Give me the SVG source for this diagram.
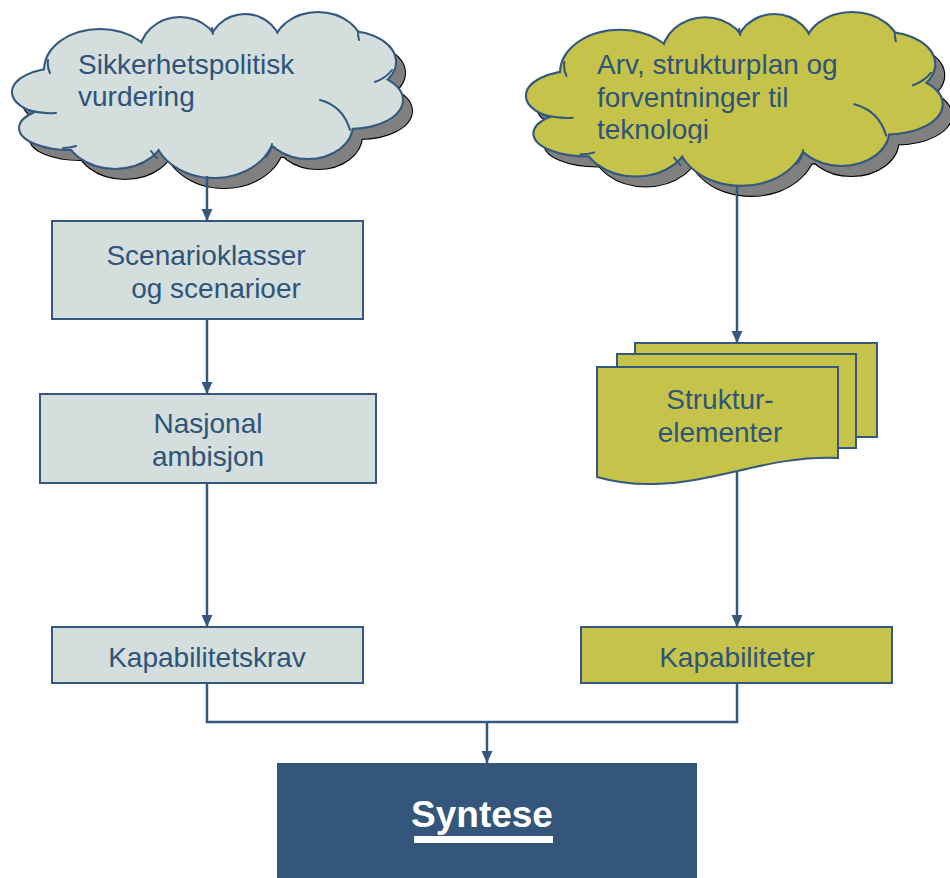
<svg xmlns="http://www.w3.org/2000/svg" xmlns:xlink="http://www.w3.org/1999/xlink" width="950" height="878" viewBox="0 0 950 878">
  <style>
    .lbl { font-family: "Liberation Sans", Arial, sans-serif; font-size: 28px; fill: #2F5479; }
    .box-light { fill: #D3DEDD; stroke: #34587E; stroke-width: 2; }
    .box-olive { fill: #C6C34A; stroke: #34587E; stroke-width: 2; }
    .conn { fill: none; stroke: #34587E; stroke-width: 2.5; }
    .arcs { fill: none; stroke: #34587E; stroke-width: 2; stroke-linecap: round; }
  </style>
  <defs>
    <marker id="arrow" viewBox="0 0 12 12" refX="12" refY="6" markerWidth="12" markerHeight="12" markerUnits="userSpaceOnUse" orient="auto">
      <path d="M0,0.5 L12,6 L0,11.5 Z" fill="#34587E"/>
    </marker>
    <!-- cloud body built from overlapping ellipses -->
    <g id="cloudShape">
      <ellipse cx="100" cy="70" rx="55" ry="40"/>
      <ellipse cx="180" cy="55" rx="40" ry="37"/>
      <ellipse cx="245" cy="50" rx="36" ry="35"/>
      <ellipse cx="318" cy="48" rx="44" ry="35"/>
      <ellipse cx="348" cy="62" rx="47" ry="30"/>
      <ellipse cx="350" cy="100" rx="52" ry="28"/>
      <ellipse cx="308" cy="125" rx="44" ry="33"/>
      <ellipse cx="214" cy="130" rx="60" ry="47"/>
      <ellipse cx="115" cy="130" rx="50" ry="38"/>
      <ellipse cx="70" cy="128" rx="50" ry="21"/>
      <ellipse cx="60" cy="92" rx="47" ry="23"/>
      <ellipse cx="215" cy="95" rx="150" ry="55"/>
    </g>
    <!-- interior fold lines of the cloud -->
    <path id="cloudArcs" d="M48,60 Q47,67 50,73 M212,28 Q212,31 213,34 M358,33 Q358,36 359,40 M392,70 Q386,78 375,82 M320,100 Q343,106 350,130 M272,144 Q271,152 266,157 M151,151 Q154,155 157,158 M63,148 Q70,148 76,146 M25,109 Q40,114 56,113"/>
    <clipPath id="clipTekst">
      <rect x="520" y="0" width="430" height="143"/>
    </clipPath>
  </defs>

  <!-- Cloud: security policy assessment -->
  <g id="sikkerhetspolitisk">
    <g transform="translate(10,11)">
      <use xlink:href="#cloudShape" fill="#808080" stroke="#000" stroke-width="2"/>
      <use xlink:href="#cloudShape" fill="#808080" stroke="none"/>
    </g>
    <use xlink:href="#cloudShape" fill="#D3DEDD" stroke="#34587E" stroke-width="4"/>
    <use xlink:href="#cloudShape" fill="#D3DEDD" stroke="none"/>
    <use xlink:href="#cloudArcs" class="arcs"/>
    <text class="lbl" x="78" y="74">Sikkerhetspolitisk</text>
    <text class="lbl" x="78" y="106">vurdering</text>
  </g>

  <!-- Cloud: legacy, structure plan and technology expectations -->
  <g id="arv">
    <g transform="translate(10,11)">
      <g transform="translate(527,13) scale(1.066,1.048) translate(-13,-13)">
        <use xlink:href="#cloudShape" fill="#808080" stroke="#000" stroke-width="2"/>
        <use xlink:href="#cloudShape" fill="#808080" stroke="none"/>
      </g>
    </g>
    <g transform="translate(527,13) scale(1.066,1.048) translate(-13,-13)">
      <use xlink:href="#cloudShape" fill="#C6C34A" stroke="#34587E" stroke-width="4"/>
      <use xlink:href="#cloudShape" fill="#C6C34A" stroke="none"/>
      <use xlink:href="#cloudArcs" class="arcs"/>
    </g>
    <text class="lbl" x="597" y="74">Arv, strukturplan og</text>
    <text class="lbl" x="597" y="107">forventninger til</text>
    <text class="lbl" x="597" y="139" clip-path="url(#clipTekst)">teknologi</text>
  </g>

  <g id="scenarioklasser">
    <rect class="box-light" x="52" y="221" width="311" height="98"/>
    <text class="lbl" x="206" y="265" text-anchor="middle">Scenarioklasser</text>
    <text class="lbl" x="216" y="298" text-anchor="middle">og scenarioer</text>
  </g>

  <g id="nasjonal-ambisjon">
    <rect class="box-light" x="40" y="394" width="336" height="89"/>
    <text class="lbl" x="208" y="433" text-anchor="middle">Nasjonal</text>
    <text class="lbl" x="208" y="466" text-anchor="middle">ambisjon</text>
  </g>

  <g id="kapabilitetskrav">
    <rect class="box-light" x="52" y="627" width="311" height="56"/>
    <text class="lbl" x="207" y="667" text-anchor="middle">Kapabilitetskrav</text>
  </g>

  <!-- Multi-document stack -->
  <g id="strukturelementer">
    <rect class="box-olive" x="635" y="343" width="242" height="94"/>
    <rect class="box-olive" x="617" y="354" width="239" height="94"/>
    <path class="box-olive" d="M597,367 H838 V458 C770,455 720,482 655,484 Q625,485 597,477 Z"/>
    <text class="lbl" x="720" y="409" text-anchor="middle">Struktur-</text>
    <text class="lbl" x="720" y="442" text-anchor="middle">elementer</text>
  </g>

  <g id="kapabiliteter">
    <rect class="box-olive" x="581" y="627" width="311" height="56"/>
    <text class="lbl" x="737" y="667" text-anchor="middle">Kapabiliteter</text>
  </g>

  <g id="syntese">
    <rect x="277" y="763" width="420" height="115" fill="#33567A"/>
    <text x="482" y="827" text-anchor="middle" font-family="'Liberation Sans', Arial, sans-serif" font-size="37" font-weight="bold" fill="#FFFFFF">Syntese</text>
    <rect x="414" y="836" width="139" height="7" fill="#FFFFFF"/>
  </g>

  <g id="connectors">
    <path class="conn" d="M207,176 V221" marker-end="url(#arrow)"/>
    <path class="conn" d="M207,319 V394" marker-end="url(#arrow)"/>
    <path class="conn" d="M207,483 V627" marker-end="url(#arrow)"/>
    <path class="conn" d="M737,185 V343" marker-end="url(#arrow)"/>
    <path class="conn" d="M737,471 V627" marker-end="url(#arrow)"/>
    <path class="conn" d="M207,683 V722 H737 V683"/>
    <path class="conn" d="M487,722 V763" marker-end="url(#arrow)"/>
  </g>
</svg>
